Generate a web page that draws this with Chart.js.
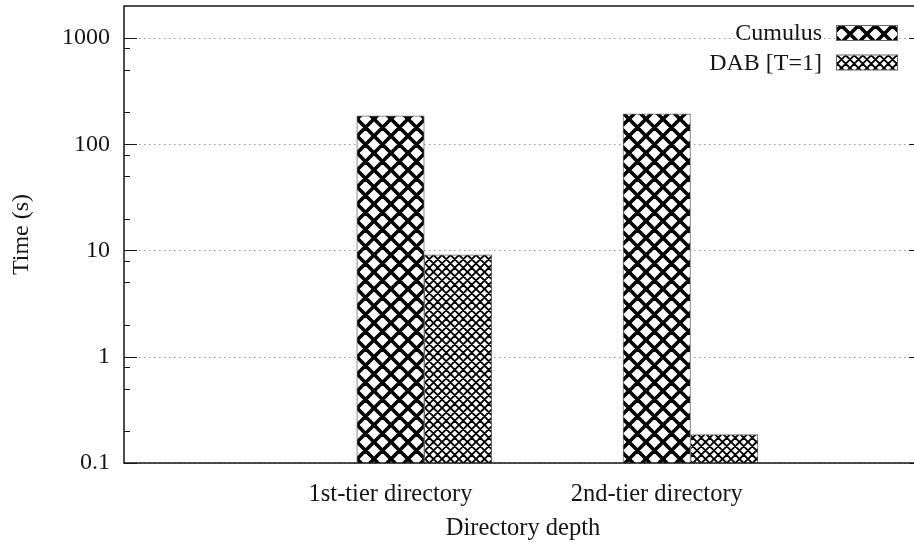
<!DOCTYPE html>
<html>
<head>
<meta charset="utf-8">
<script src="https://cdn.jsdelivr.net/npm/chart.js@4"></script>
<style>
  html, body { margin: 0; padding: 0; background: #fff; overflow: hidden; }
  #wrap { position: absolute; left: 0; top: 0; width: 922px; height: 555px; }
</style>
</head>
<body>
<div id="wrap"><canvas id="chart"></canvas></div>
<script>
// ---- data ----
const categories = ['1st-tier directory', '2nd-tier directory'];
const seriesNames = ['Cumulus', 'DAB [T=1]'];
const cumulusTimes = [185, 193];
const dabTimes = [9.1, 0.185];
const yTickValues = [0.1, 1, 10, 100, 1000];
const yMinorTickValues = [0.2, 0.5, 0.8, 2, 5, 8, 20, 50, 80, 200, 500, 800];
const xTitle = 'Directory depth';
const yTitle = 'Time (s)';

const FONT = "'Liberation Serif', 'Times New Roman', serif";
const INK = '#151515';
const BAR_WIDTH = 67.5;

const canvas = document.getElementById('chart');
const ctx2d = canvas.getContext('2d');

// Diagonal cross-hatch fill: two families of 45° lines on white.
function crossHatch(period, lineWidth) {
  const T = 17;
  const tile = document.createElement('canvas');
  tile.width = T; tile.height = T;
  const g = tile.getContext('2d');
  g.fillStyle = '#fff';
  g.fillRect(0, 0, T, T);
  g.strokeStyle = '#000';
  g.lineWidth = lineWidth;
  g.beginPath();
  for (let c = -3 * T; c <= 3 * T; c += period) {
    g.moveTo(-T, -T + c); g.lineTo(2 * T, 2 * T + c);
    g.moveTo(-T, T + c);  g.lineTo(2 * T, -2 * T + c);
  }
  g.stroke();
  return ctx2d.createPattern(tile, 'repeat');
}

const cumulusFill = crossHatch(17, 3.6);
const dabFill = crossHatch(8.5, 1.9);

const points = (vals) => categories.map((_, i) => ({ x: i, y: vals[i] }));

// Frame, dotted grid, inner tick marks and the in-plot key.
const decorations = {
  id: 'decorations',
  beforeDatasetsDraw(chart) {
    const { ctx, chartArea: a, scales: { y } } = chart;
    ctx.save();
    ctx.strokeStyle = '#999';
    ctx.lineWidth = 1;
    ctx.setLineDash([1.5, 3.5]);
    yTickValues.forEach(v => {
      const py = Math.round(y.getPixelForValue(v)) + 0.5;
      ctx.beginPath(); ctx.moveTo(a.left, py); ctx.lineTo(a.right, py); ctx.stroke();
    });
    ctx.restore();
  },
  afterDatasetsDraw(chart) {
    const { ctx, chartArea: a, scales: { y } } = chart;
    ctx.save();
    ctx.strokeStyle = INK;
    ctx.lineWidth = 1.5;
    ctx.strokeRect(a.left, a.top, a.right - a.left, a.bottom - a.top);
    const tick = (v, len) => {
      const py = Math.round(y.getPixelForValue(v)) + 0.5;
      ctx.beginPath();
      ctx.moveTo(a.left, py); ctx.lineTo(a.left + len, py);
      ctx.moveTo(a.right, py); ctx.lineTo(a.right - len, py);
      ctx.stroke();
    };
    ctx.lineWidth = 1.2;
    yTickValues.forEach(v => tick(v, 13));
    yMinorTickValues.forEach(v => tick(v, 6));

    // key
    ctx.font = '24px ' + FONT;
    ctx.textAlign = 'right';
    ctx.textBaseline = 'middle';
    chart.data.datasets.forEach((ds, i) => {
      const yc = a.top + 27 + i * 29.5;
      const sx = a.right - 86;
      ctx.fillStyle = INK;
      ctx.fillText(ds.label, sx - 14, yc + 1);
      ctx.fillStyle = ds.backgroundColor;
      ctx.fillRect(sx, yc - 7.5, 62, 15);
      ctx.strokeStyle = '#666';
      ctx.lineWidth = 1;
      ctx.strokeRect(sx + 0.5, yc - 7.5, 61, 15);
    });
    ctx.restore();
  }
};

new Chart(canvas, {
  type: 'bar',
  data: {
    datasets: [
      { label: seriesNames[0], data: points(cumulusTimes), backgroundColor: cumulusFill,
        borderColor: '#6a6a6a', borderWidth: 1, barThickness: BAR_WIDTH },
      { label: seriesNames[1], data: points(dabTimes), backgroundColor: dabFill,
        borderColor: '#6a6a6a', borderWidth: 1, barThickness: BAR_WIDTH }
    ]
  },
  options: {
    responsive: true,
    maintainAspectRatio: false,
    animation: false,
    events: [],
    layout: { padding: { top: 6, right: 0, bottom: 0, left: 0 } },
    plugins: { legend: { display: false }, tooltip: { enabled: false } },
    scales: {
      x: {
        type: 'linear',
        offset: false,
        min: -1.128,
        max: 1.8697,
        grid: { display: false, drawTicks: false },
        border: { display: false },
        afterBuildTicks: (s) => { s.ticks = categories.map((_, i) => ({ value: i })); },
        afterFit: (s) => { s.height = 92; s.paddingLeft = 0; s.paddingRight = 0; },
        ticks: {
          autoSkip: false, maxRotation: 0, padding: 17, color: INK,
          labelOffset: -BAR_WIDTH / 2,
          font: { family: FONT, size: 24.5 },
          callback: (v) => categories[v] ?? ''
        },
        title: {
          display: true, text: xTitle, color: INK,
          font: { family: FONT, size: 24.5 },
          padding: { top: 0, bottom: 12 }
        }
      },
      y: {
        type: 'logarithmic',
        min: 0.1,
        max: 2000,
        grid: { display: false, drawTicks: false },
        border: { display: false },
        afterBuildTicks: (s) => { s.ticks = yTickValues.map(v => ({ value: v })); },
        afterFit: (s) => { s.width = 124; s.paddingTop = 0; s.paddingBottom = 0; },
        ticks: {
          padding: 14, color: INK,
          font: { family: FONT, size: 24 },
          callback: (v) => String(v)
        },
        title: {
          display: true, text: yTitle, color: INK,
          font: { family: FONT, size: 24 },
          padding: { top: 7, bottom: 0 }
        }
      }
    }
  },
  plugins: [decorations]
});
</script>
</body>
</html>
